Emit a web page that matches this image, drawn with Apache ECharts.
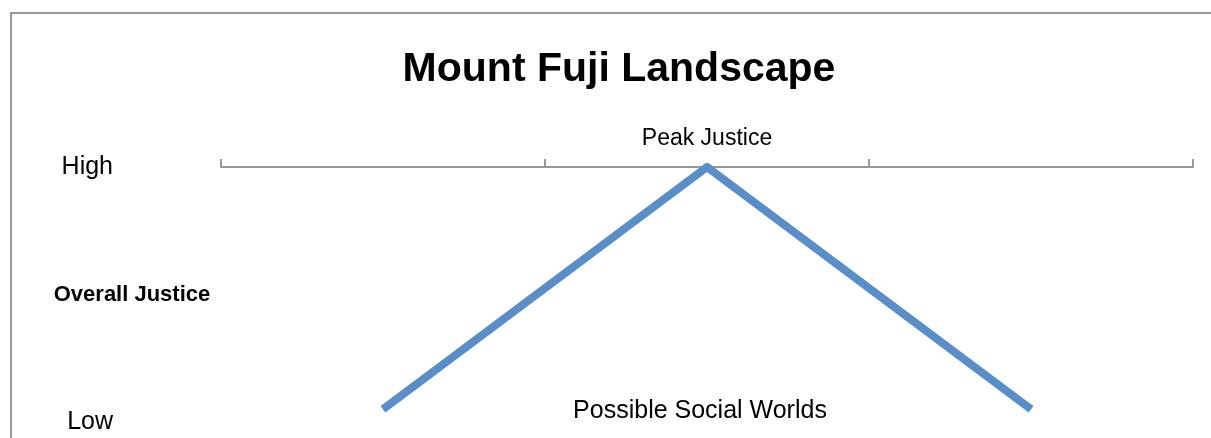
<!DOCTYPE html>
<html>
<head>
<meta charset="utf-8">
<title>Mount Fuji Landscape</title>
<script src="https://cdn.jsdelivr.net/npm/echarts@6/dist/echarts.min.js"></script>
<style>
    html, body { margin: 0; padding: 0; background: #fff; }
    #main { width: 1211px; height: 438px; }
</style>
</head>
<body>
<div id="main"></div>
<script>
// 数据
var worlds = ['World A', 'World B', 'World C'];
var justice = [0.5, 10, 0.5];
var levelLabels = { 0: 'Low', 10: 'High' };
var peakLabel = 'Peak Justice';
var xName = 'Possible Social Worlds';
var yName = 'Overall Justice';

var font = 'Liberation Sans';
var lineColor = '#5a8ec8';

var myChart = echarts.init(document.getElementById('main'));

// 山峰的数据点，最高点带标签
var seriesData = justice.map(function (v, i) {
    if (i === 1) {
        return {
            value: v,
            label: {
                show: true,
                position: 'top',
                distance: 16,
                formatter: peakLabel,
                color: '#000',
                fontFamily: font,
                fontSize: 23
            }
        };
    }
    return v;
});

var option = {
    animation: false,
    title: {
        text: 'Mount Fuji Landscape',
        left: 614,
        top: 44,
        textAlign: 'center',
        textStyle: {
            fontFamily: font,
            fontWeight: 'bold',
            fontSize: 41,
            color: '#000'
        }
    },
    graphic: [
        {
            // 外框
            type: 'rect',
            shape: { x: 11, y: 13, width: 1400, height: 600 },
            style: { fill: null, stroke: '#999', lineWidth: 2 },
            silent: true
        }
    ],
    grid: {
        left: 221,
        right: 18,
        top: 167,
        bottom: 16,
        containLabel: false,
        outerBoundsMode: 'none'
    },
    xAxis: [
        {
            type: 'category',
            position: 'top',
            data: worlds,
            boundaryGap: true,
            axisLine: { onZero: false, lineStyle: { color: '#999', width: 2 } },
            axisTick: { show: true, length: 8, lineStyle: { color: '#999', width: 2 } },
            axisLabel: { show: false },
            splitLine: { show: false }
        },
        {
            type: 'category',
            position: 'bottom',
            data: worlds,
            axisLine: { show: false, onZero: false },
            axisTick: { show: false },
            axisLabel: { show: false },
            name: xName,
            nameLocation: 'middle',
            nameGap: -11,
            nameMoveOverlap: false,
            nameTextStyle: {
                fontFamily: font,
                fontSize: 25,
                color: '#000',
                verticalAlign: 'middle',
                padding: [0, 14, 0, 0]
            }
        }
    ],
    yAxis: {
        type: 'value',
        min: 0,
        max: 10,
        interval: 10,
        axisLine: { show: false },
        axisTick: { show: false },
        splitLine: { show: false },
        axisLabel: {
            margin: 108,
            fontFamily: font,
            fontSize: 25,
            color: '#000',
            formatter: function (v) {
                return levelLabels[v] || '';
            }
        },
        name: yName,
        nameLocation: 'middle',
        nameRotate: 0,
        nameGap: 89,
        nameMoveOverlap: false,
        nameTextStyle: {
            fontFamily: font,
            fontWeight: 'bold',
            fontSize: 22,
            color: '#000',
            align: 'center',
            verticalAlign: 'middle'
        }
    },
    series: [
        {
            name: yName,
            type: 'line',
            xAxisIndex: 0,
            data: seriesData,
            symbol: 'circle',
            symbolSize: 1,
            itemStyle: { color: lineColor },
            lineStyle: {
                color: lineColor,
                width: 8,
                cap: 'butt',
                join: 'miter'
            }
        }
    ]
};

myChart.setOption(option);
</script>
</body>
</html>
